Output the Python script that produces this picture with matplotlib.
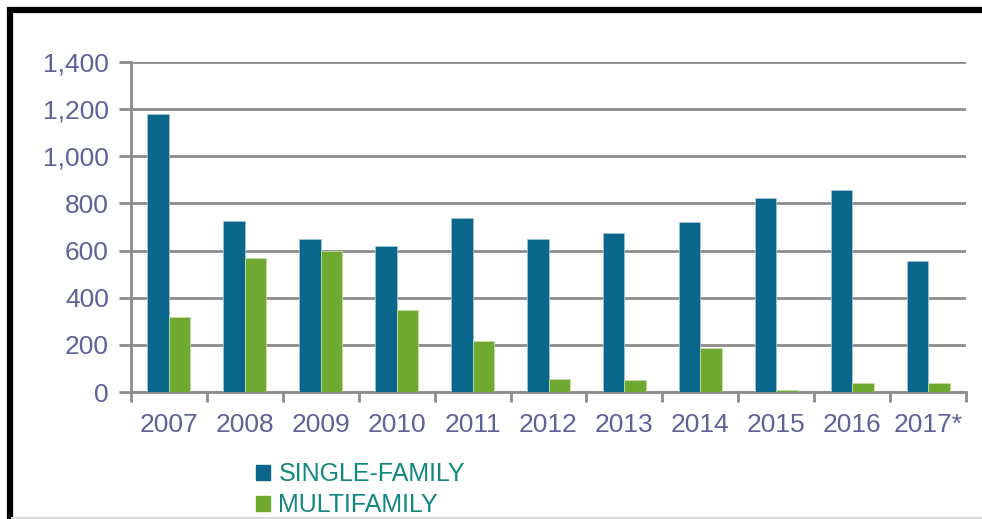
import numpy as np
import matplotlib.pyplot as plt
from matplotlib.patches import Patch
from matplotlib.lines import Line2D
from matplotlib.ticker import FuncFormatter

plt.rcParams['font.family'] = ['Liberation Sans', 'DejaVu Sans']

years = ['2007', '2008', '2009', '2010', '2011', '2012', '2013', '2014', '2015', '2016', '2017*']
single_family = [1180, 725, 650, 620, 740, 650, 675, 720, 825, 855, 555]
multifamily = [320, 570, 600, 350, 215, 55, 50, 185, 10, 38, 38]

blue = '#0b668c'
green = '#70a92f'
label_col = '#5f6299'
legend_col = '#13877f'
grid_col = '#8c8c8c'

fig = plt.figure(figsize=(9.82, 5.19), dpi=100)
ax = fig.add_axes([131/982, 1 - 392/519, (966 - 131)/982, (392 - 62)/519])

x = np.arange(len(years))
w = 0.283
ax.bar(x - w/2, single_family, w, color=blue, edgecolor='#9ec3d3', linewidth=0.6, zorder=3)
ax.bar(x + w/2, multifamily, w, color=green, edgecolor='#c4dea6', linewidth=0.6, zorder=3)

ax.set_xlim(-0.5, len(years) - 0.5)
ax.set_ylim(0, 1400)
ax.set_yticks(range(0, 1401, 200))
ax.yaxis.set_major_formatter(FuncFormatter(lambda v, p: f'{int(v):,}'))
ax.yaxis.grid(True, color=grid_col, linewidth=2)
ax.set_axisbelow(True)

# x ticks between categories, labels centered on categories
ax.set_xticks(np.arange(-0.5, len(years), 1.0))
ax.set_xticklabels([])
ax.set_xticks(x, minor=True)
ax.set_xticklabels(years, minor=True)
ax.tick_params(axis='x', which='major', direction='out', length=7, width=2, color=grid_col)
ax.tick_params(axis='x', which='minor', length=0, pad=15, labelsize=19, labelcolor=label_col)
ax.tick_params(axis='y', direction='out', length=9, width=2, color=grid_col,
               pad=7, labelsize=19, labelcolor=label_col)

for s in ['top', 'right']:
    ax.spines[s].set_visible(False)
for s in ['left', 'bottom']:
    ax.spines[s].set_color(grid_col)
    ax.spines[s].set_linewidth(2)

# legend
handles = [Patch(color=blue), Patch(color=green)]
fig.legend(handles, ['SINGLE-FAMILY', 'MULTIFAMILY'], loc='upper left',
           bbox_to_anchor=(256/982, 1 - 462/519), frameon=False, fontsize=18,
           labelcolor=legend_col, handlelength=0.55, handleheight=0.55,
           handletextpad=0.35, labelspacing=0.3, borderpad=0, borderaxespad=0)

# black frame around the picture
fig.add_artist(Line2D([9.5/982, 1], [1 - 9.5/519, 1 - 9.5/519], color='black', linewidth=4.5,
                      transform=fig.transFigure, solid_capstyle='butt'))
fig.add_artist(Line2D([9.5/982, 9.5/982], [0, 1 - 7/519], color='black', linewidth=4.5,
                      transform=fig.transFigure, solid_capstyle='butt'))
fig.add_artist(Line2D([12/982, 1], [1.5/519, 1.5/519], color='#d9d9d9', linewidth=1.5,
                      transform=fig.transFigure))

fig.savefig('out.png', dpi=100)
